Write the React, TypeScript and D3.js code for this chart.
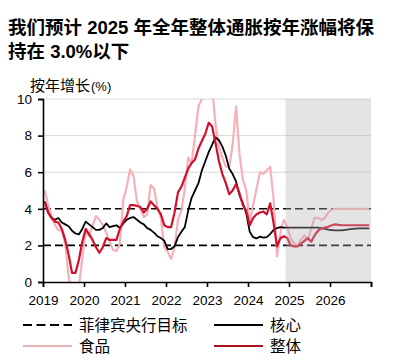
// Philippines inflation: headline, core, food vs BSP target band
import React, { useEffect, useRef } from 'react';
import * as d3 from 'd3';

const yearLabels = ['2019', '2020', '2021', '2022', '2023', '2024', '2025', '2026'];
const yTicks = [0, 2, 4, 6, 8, 10];
const targetBand = [2, 4];
const forecastStart = 71; // index of first shaded month (Dec 2024)

// monthly y/y %, Jan 2019 - Dec 2026
const headline = [
  4.4, 3.8, 3.5, 3.3, 3.25, 2.9, 2.3, 1.5, 0.5, 0.5, 1.2, 2.2,
  2.9, 2.6, 2.3, 1.9, 1.6, 1.9, 2.4, 2.3, 2.3, 2.3, 2.9, 3.3,
  3.6, 4.2, 4.2, 4.15, 4.1, 3.8, 4.0, 4.4, 4.2, 4.0, 3.7, 3.1,
  3.0, 3.0, 3.8, 4.9, 5.2, 5.7, 6.2, 6.5, 6.7, 7.3, 7.7, 8.1,
  8.7, 8.5, 7.6, 6.6, 5.9, 5.4, 4.8, 5.0, 5.35, 4.85, 4.2, 3.9,
  3.1, 3.5, 3.7, 3.8, 3.85, 3.7, 4.3, 3.2, 1.95, 2.4, 2.5, 2.4,
  2.0, 1.95, 1.95, 2.1, 2.25, 2.4, 2.2, 2.55, 2.8, 2.93, 2.97, 3.02,
  3.1, 3.15, 3.12, 3.1, 3.1, 3.1, 3.1, 3.1, 3.1, 3.1, 3.1, 3.1,
];

const core = [
  4.4, 3.8, 3.5, 3.4, 3.5, 3.25, 3.15, 3.05, 2.8, 2.65, 2.6, 2.9,
  3.3, 3.15, 3.0, 2.85, 2.85, 2.95, 3.2, 3.0, 3.05, 3.1, 2.95, 3.2,
  3.4, 3.5, 3.55, 3.4, 3.25, 3.15, 2.95, 2.85, 2.7, 2.5, 2.4, 2.25,
  1.8, 1.8, 1.95, 2.45, 2.75, 3.0, 3.9, 4.6, 5.0, 5.4, 6.1, 6.6,
  7.1, 7.5, 7.9, 7.75, 7.4, 6.9, 6.2, 5.9, 5.5, 4.75, 4.3, 3.75,
  2.75, 2.45, 2.38, 2.48, 2.42, 2.45, 2.62, 2.85, 2.95, 3.0, 2.97, 2.97,
  2.97, 2.97, 2.97, 2.97, 2.97, 2.97, 2.97, 2.97, 2.97, 2.93, 2.9, 2.86,
  2.84, 2.82, 2.82, 2.82, 2.85, 2.88, 2.9, 2.92, 2.93, 2.93, 2.93, 2.93,
];

const food = [
  5.0, 4.2, 3.6, 3.1, 2.85, 2.8, 2.1, 0.3, -0.8, -1.2, -0.3, 1.3,
  2.8, 2.5, 3.1, 3.6, 3.4, 3.1, 2.7, 2.2, 1.75, 1.7, 2.1, 4.5,
  5.2, 6.15, 5.8, 4.4, 4.0, 3.55, 3.7, 5.3, 5.1, 4.1, 3.5, 1.9,
  1.65, 1.25, 1.9, 3.4, 3.9, 5.1, 6.8, 6.5, 8.0, 9.6, 10.0, 10.6,
  11.2, 10.6, 8.6, 7.4, 6.8, 6.3, 6.3, 7.5, 9.6, 7.0, 5.6, 5.0,
  3.3, 4.2, 5.1, 6.0, 5.9, 6.1, 6.3, 4.5, 1.4, 2.7, 3.4, 3.0,
  2.4, 2.1, 2.0, 2.3, 2.55, 2.3, 2.9, 3.5, 3.5, 3.4, 3.5, 3.8,
  3.95, 4.0, 4.0, 4.0, 4.0, 4.0, 4.0, 4.0, 4.0, 4.0, 4.0, 4.0,
];

const RED = '#d3102c';
const PINK = '#f7b0b9';

const App: React.FC = () => {
  const ref = useRef<SVGSVGElement>(null);

  useEffect(() => {
    if (!ref.current) return;
    const svg = d3.select(ref.current);
    svg.selectAll('*').remove();

    const width = 399;
    const height = 363;
    const font = '"Liberation Sans", Arial, "Noto Sans CJK SC", sans-serif';
    const left = 43, right = 371, top = 99, bottom = 282;

    svg.attr('width', width).attr('height', height).style('font-family', font);

    // title
    const title = svg.append('text').attr('x', 8).attr('font-size', 18.5).attr('font-weight', 'bold').attr('fill', '#000');
    title.append('tspan').attr('x', 8).attr('y', 34).text('我们预计 2025 年全年整体通胀按年涨幅将保');
    title.append('tspan').attr('x', 8).attr('y', 58).text('持在 3.0%以下');

    const ylab = svg.append('text').attr('x', 30).attr('y', 91).attr('font-size', 15);
    ylab.append('tspan').text('按年增长');
    ylab.append('tspan').attr('font-size', 13).attr('dx', 1).text('(%)');

    const x = d3.scaleLinear().domain([0, yearLabels.length * 12]).range([left, right]);
    const y = d3.scaleLinear().domain([0, 10]).range([bottom, top]);
    const mx = (i: number) => x(i + 0.5);

    // grid
    svg.append('g')
      .selectAll('line')
      .data(yTicks.filter(t => t > 4))
      .join('line')
      .attr('x1', left).attr('x2', right)
      .attr('y1', d => y(d)).attr('y2', d => y(d))
      .attr('stroke', '#d9d9d9').attr('stroke-width', 1);

    svg.append('g')
      .selectAll('line')
      .data(targetBand)
      .join('line')
      .attr('x1', left).attr('x2', right)
      .attr('y1', d => y(d)).attr('y2', d => y(d))
      .attr('stroke', '#000').attr('stroke-width', 1.6)
      .attr('stroke-dasharray', '8,4');

    svg.append('clipPath').attr('id', 'plot-clip')
      .append('rect')
      .attr('x', left).attr('y', top)
      .attr('width', right - left).attr('height', bottom - top);

    const line = d3.line<number>()
      .x((_, i) => mx(i))
      .y(d => y(d));

    const lines = svg.append('g').attr('clip-path', 'url(#plot-clip)');
    lines.append('path').datum(food)
      .attr('fill', 'none').attr('stroke', PINK).attr('stroke-width', 2.2)
      .attr('stroke-linejoin', 'round').attr('d', line);
    lines.append('path').datum(core)
      .attr('fill', 'none').attr('stroke', '#000').attr('stroke-width', 1.8)
      .attr('stroke-linejoin', 'round').attr('d', line);
    lines.append('path').datum(headline)
      .attr('fill', 'none').attr('stroke', RED).attr('stroke-width', 2.2)
      .attr('stroke-linejoin', 'round').attr('d', line);

    // forecast shading laid over the lines
    svg.append('rect')
      .attr('x', x(forecastStart)).attr('y', top)
      .attr('width', right - x(forecastStart)).attr('height', bottom - top)
      .attr('fill', '#b4b4b4').attr('opacity', 0.36);

    // axes
    const xAxis = d3.axisBottom(x)
      .tickValues(d3.range(0, yearLabels.length * 12 + 1, 12))
      .tickSize(5)
      .tickFormat((d) => yearLabels[(d as number) / 12] ?? '');
    const gx = svg.append('g').attr('transform', `translate(0,${bottom})`).call(xAxis);
    gx.select('.domain').attr('stroke', '#000').attr('stroke-width', 1.6);
    gx.selectAll('.tick line').attr('stroke', '#000').attr('stroke-width', 1.6);
    gx.selectAll('.tick text').attr('font-size', 13.5).attr('font-family', font).attr('fill', '#000').attr('dy', '1.1em');

    const yAxis = d3.axisLeft(y).tickValues(yTicks).tickSize(5).tickFormat(d3.format('d'));
    const gy = svg.append('g').attr('transform', `translate(${left},0)`).call(yAxis);
    gy.select('.domain').attr('stroke', '#000').attr('stroke-width', 1.6);
    gy.selectAll('.tick line').attr('stroke', '#000').attr('stroke-width', 1.6);
    gy.selectAll('.tick text').attr('font-size', 13.5).attr('font-family', font).attr('fill', '#000').attr('x', -11);

    // legend
    const legend = [
      { label: '菲律宾央行目标', color: '#000', dash: '9,4.5', lx: 23, ly: 325 },
      { label: '核心', color: '#000', dash: null, lx: 214, ly: 325 },
      { label: '食品', color: '#e8b2b8', dash: null, lx: 23, ly: 346 },
      { label: '整体', color: '#a8121f', dash: null, lx: 214, ly: 346 },
    ];
    const lg = svg.append('g').selectAll('g').data(legend).join('g');
    lg.append('line')
      .attr('x1', d => d.lx).attr('x2', d => d.lx + 49)
      .attr('y1', d => d.ly).attr('y2', d => d.ly)
      .attr('stroke', d => d.color).attr('stroke-width', 2)
      .attr('stroke-dasharray', d => d.dash);
    lg.append('text')
      .attr('x', d => d.lx + 56).attr('y', d => d.ly + 5.5)
      .attr('font-size', 15.5).attr('fill', '#000')
      .text(d => d.label);
  }, []);

  return (
    <div style={{ position: 'absolute', left: 0, top: 0, background: '#fff' }}>
      <svg ref={ref}></svg>
    </div>
  );
};

export default App;
